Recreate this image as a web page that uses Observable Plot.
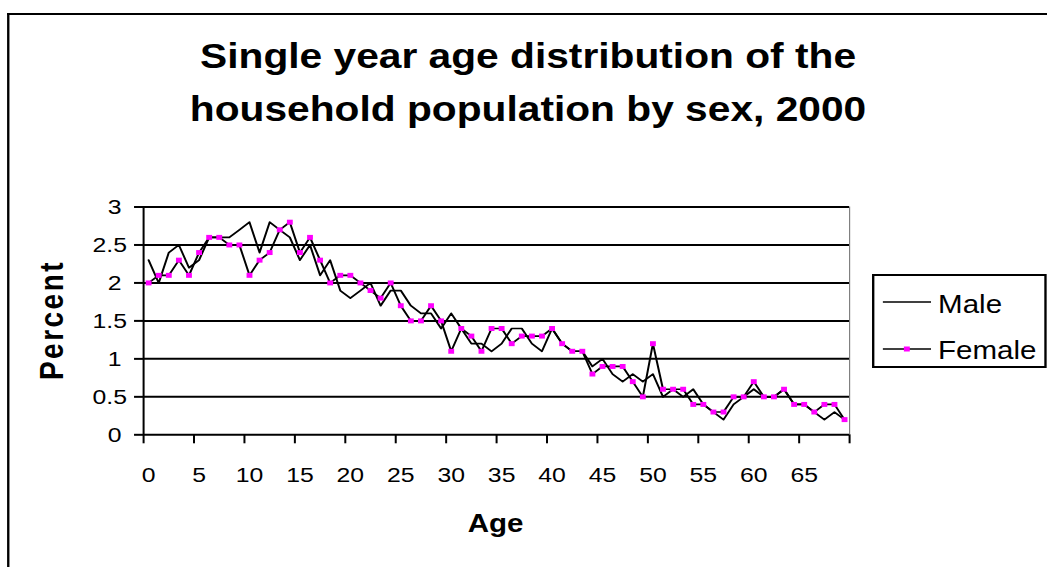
<!DOCTYPE html>
<html>
<head>
<meta charset="utf-8">
<script src="https://cdn.jsdelivr.net/npm/d3@7"></script>
<script src="https://cdn.jsdelivr.net/npm/@observablehq/plot@0.6"></script>
<style>
html, body { margin: 0; padding: 0; background: #fff; overflow: hidden; width: 1047px; height: 567px; }
#wrap { position: absolute; left: 0; top: 0; width: 888px; height: 567px; transform: scaleX(1.18); transform-origin: 0 0;
        font-family: "Liberation Sans", Arial, sans-serif; color: #000; }
#frame { position: absolute; left: 5.7px; top: 13.3px; width: 1000px; height: 700px; border-left: 2px solid #000; border-top: 2px solid #000; }
#title { position: absolute; left: 0; width: 895px; top: 29.5px; text-align: center; font-weight: bold; font-size: 34.5px; line-height: 53px; }
#ylabel { position: absolute; left: 43.5px; top: 320px; transform: translate(-50%, -50%) rotate(-90deg); font-weight: bold; font-size: 28px; letter-spacing: 2.5px; white-space: nowrap; }
#xlabel { position: absolute; left: 420px; top: 523px; transform: translate(-50%, -50%); font-weight: bold; font-size: 25px; white-space: nowrap; }
#chart { position: absolute; left: 0; top: 0; }
#legend { position: absolute; left: 739px; top: 274px; width: 148px; height: 94px; box-sizing: border-box; border: 2px solid #000; background: #fff; }
#legend .sw { position: absolute; left: 7.3px; }
#legend .lt { position: absolute; left: 54px; font-size: 25px; line-height: 25px; white-space: nowrap; }
</style>
</head>
<body>
<div id="wrap">
  <div id="frame"></div>
  <div id="title">Single year age distribution of the<br>household population by sex, 2000</div>
  <div id="chart"></div>
  <div id="ylabel">Percent</div>
  <div id="xlabel">Age</div>
  <div id="legend"></div>
</div>
<script>
// ---- data ----
const ages = [0,1,2,3,4,5,6,7,8,9,10,11,12,13,14,15,16,17,18,19,20,21,22,23,24,25,26,27,28,29,30,31,32,33,34,35,36,37,38,39,40,41,42,43,44,45,46,47,48,49,50,51,52,53,54,55,56,57,58,59,60,61,62,63,64,65,66,67,68,69];
const male = [2.3,2.0,2.4,2.5,2.2,2.3,2.6,2.6,2.6,2.7,2.8,2.4,2.8,2.7,2.6,2.3,2.5,2.1,2.3,1.9,1.8,1.9,2.0,1.7,1.9,1.9,1.7,1.6,1.6,1.4,1.6,1.4,1.2,1.2,1.1,1.2,1.4,1.4,1.2,1.1,1.4,1.2,1.1,1.1,0.9,1.0,0.8,0.7,0.8,0.7,0.8,0.5,0.6,0.5,0.6,0.4,0.3,0.2,0.4,0.5,0.6,0.5,0.5,0.6,0.4,0.4,0.3,0.2,0.3,0.2];
const female = [2.0,2.1,2.1,2.3,2.1,2.4,2.6,2.6,2.5,2.5,2.1,2.3,2.4,2.7,2.8,2.4,2.6,2.3,2.0,2.1,2.1,2.0,1.9,1.8,2.0,1.7,1.5,1.5,1.7,1.5,1.1,1.4,1.3,1.1,1.4,1.4,1.2,1.3,1.3,1.3,1.4,1.2,1.1,1.1,0.8,0.9,0.9,0.9,0.7,0.5,1.2,0.6,0.6,0.6,0.4,0.4,0.3,0.3,0.5,0.5,0.7,0.5,0.5,0.6,0.4,0.4,0.3,0.4,0.4,0.2];
const xTickLabels = [0,5,10,15,20,25,30,35,40,45,50,55,60,65];
const yTicks = [0,0.5,1,1.5,2,2.5,3];
const seriesNames = ["Male", "Female"];

const table = ages.map((a, i) => ({age: a, male: male[i], female: female[i]}));

// category axis: ticks sit between categories, labels on category centres
const lastAge = ages[ages.length - 1];
const xTickPos = xTickLabels.map(v => v - 0.5).concat([lastAge + 0.5]);

const k = 1.18;          // horizontal stretch of the whole figure
const W = 888;
const H = 567;

const chart = Plot.plot({
  width: W,
  height: H,
  marginLeft: 143 / k,
  marginRight: W - 849 / k,
  marginTop: 206.5,
  marginBottom: H - 434.3,
  x: {domain: [ages[0] - 0.5, lastAge + 0.5]},
  y: {domain: [0, 3]},
  style: {fontFamily: '"Liberation Sans", Arial, sans-serif', fontSize: "21px", background: "transparent", color: "#000", overflow: "visible"},
  marks: [
    Plot.ruleY(yTicks, {stroke: "#000", strokeWidth: 2}),
    Plot.ruleX([lastAge + 0.5], {stroke: "#808080", strokeWidth: 1}),
    Plot.ruleX([ages[0] - 0.5], {stroke: "#000", strokeWidth: 1.7}),
    Plot.axisY({ticks: yTicks.filter(d => Number.isInteger(d)), tickSize: 7.6, tickPadding: 11, strokeWidth: 2, label: null, tickFormat: d => `${d}`, fontSize: 21}),
    Plot.axisY({ticks: yTicks.filter(d => !Number.isInteger(d)), tickSize: 7.6, tickPadding: 6.5, strokeWidth: 2, label: null, tickFormat: d => `${d}`, fontSize: 21}),
    Plot.axisX({ticks: xTickPos, tickSize: 9, strokeWidth: 1.7, label: null, tickFormat: () => ""}),
    Plot.axisX({ticks: xTickLabels, tickSize: 0, tickPadding: 32, label: null, tickFormat: d => `${d}`, fontSize: 21}),
    Plot.lineY(table, {x: "age", y: "male", stroke: "#000", strokeWidth: 1.7}),
    Plot.lineY(table, {x: "age", y: "female", stroke: "#000", strokeWidth: 1.7}),
    Plot.dot(table, {x: "age", y: "female", symbol: "square", r: 2.8, fill: "#FF00FF", stroke: "none"})
  ]
});
document.getElementById("chart").appendChild(chart);

// legend
const legend = document.getElementById("legend");
const rows = [{name: seriesNames[0], marker: false, lineY: 25.7, textTop: 16.1},
              {name: seriesNames[1], marker: true, lineY: 73, textTop: 62.1}];
for (const r of rows) {
  const sw = document.createElementNS("http://www.w3.org/2000/svg", "svg");
  sw.setAttribute("class", "sw");
  sw.setAttribute("width", "41");
  sw.setAttribute("height", "10");
  sw.style.top = (r.lineY - 5) + "px";
  sw.innerHTML = `<line x1="0" x2="41" y1="5" y2="5" stroke="#000" stroke-width="1.7"></line>` +
    (r.marker ? `<rect x="18" y="2.5" width="5" height="5" fill="#FF00FF"></rect>` : "");
  legend.appendChild(sw);
  const t = document.createElement("div");
  t.className = "lt";
  t.style.top = r.textTop + "px";
  t.textContent = r.name;
  legend.appendChild(t);
}
</script>
</body>
</html>
